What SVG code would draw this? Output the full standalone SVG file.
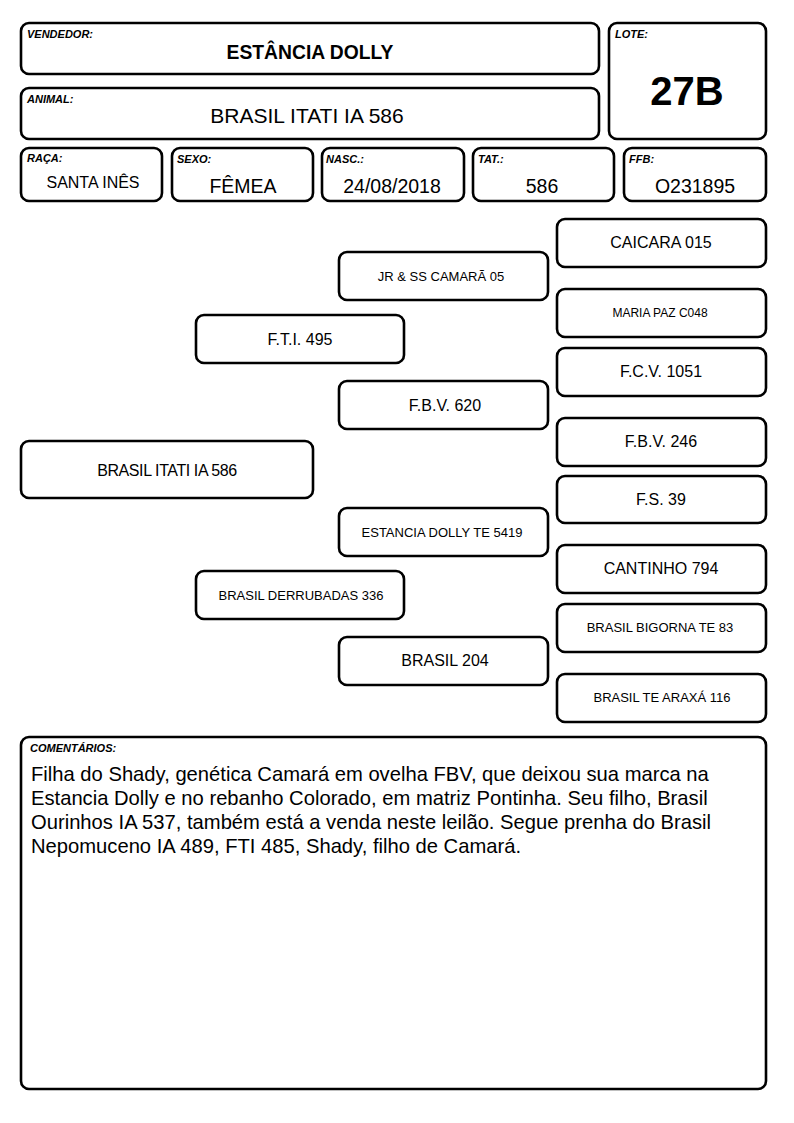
<svg xmlns="http://www.w3.org/2000/svg" width="794" height="1123" viewBox="0 0 794 1123">
<style>
rect.b{fill:#fff;stroke:#000;stroke-width:2.6}
text{font-family:"Liberation Sans",Arial,sans-serif;fill:#000}
.lb{font-size:11px;font-weight:bold;font-style:italic}
.v{text-anchor:middle}
.r{font-size:19.5px;text-anchor:middle}
.m{font-size:16px;text-anchor:middle}
.s{font-size:13px;text-anchor:middle}
.c{font-size:20.2px}
</style>
<rect width="794" height="1123" fill="#fff"/>
<g id="vendedor"><rect class="b" x="21" y="23" width="578" height="51" rx="8"/><text class="lb" x="27" y="38">VENDEDOR:</text><text class="v" x="310" y="59" font-size="19.3" font-weight="bold">ESTÂNCIA DOLLY</text></g>
<g id="animal"><rect class="b" x="21" y="88" width="578" height="51" rx="8"/><text class="lb" x="27" y="103">ANIMAL:</text><text class="v" x="307" y="123" font-size="21">BRASIL ITATI IA 586</text></g>
<g id="lote"><rect class="b" x="609" y="23" width="157" height="116" rx="8"/><text class="lb" x="615" y="38">LOTE:</text><text class="v" x="687" y="105" font-size="40" font-weight="bold">27B</text></g>
<g id="raca"><rect class="b" x="21" y="148" width="141" height="53" rx="8"/><text class="lb" x="27" y="162">RAÇA:</text><text class="v" x="93" y="188" font-size="16">SANTA INÊS</text></g>
<g id="sexo"><rect class="b" x="172" y="148" width="141" height="53" rx="8"/><text class="lb" x="177" y="163">SEXO:</text><text class="r" x="243" y="193">FÊMEA</text></g>
<g id="nasc"><rect class="b" x="322" y="148" width="142" height="53" rx="8"/><text class="lb" x="326" y="163">NASC.:</text><text class="r" x="392" y="193">24/08/2018</text></g>
<g id="tat"><rect class="b" x="473" y="148" width="141" height="53" rx="8"/><text class="lb" x="478" y="163">TAT.:</text><text class="r" x="542" y="193">586</text></g>
<g id="ffb"><rect class="b" x="624" y="148" width="142" height="53" rx="8"/><text class="lb" x="629" y="163">FFB:</text><text class="r" x="695" y="193">O231895</text></g>

<g id="connectors"></g>

<g id="p0"><rect class="b" x="21" y="441" width="292" height="57" rx="8"/><text class="m" x="167" y="476" letter-spacing="-0.4">BRASIL ITATI IA 586</text></g>
<g id="p1"><rect class="b" x="196" y="315" width="208" height="48" rx="8"/><text class="m" x="300" y="345">F.T.I. 495</text></g>
<g id="p2"><rect class="b" x="196" y="571" width="208" height="48" rx="8"/><text class="s" x="301" y="600">BRASIL DERRUBADAS 336</text></g>
<g id="p3"><rect class="b" x="339" y="252" width="209" height="48" rx="8"/><text class="s" x="441" y="281">JR &amp; SS CAMARÃ 05</text></g>
<g id="p4"><rect class="b" x="339" y="381" width="209" height="48" rx="8"/><text class="m" x="445" y="411">F.B.V. 620</text></g>
<g id="p5"><rect class="b" x="339" y="508" width="209" height="48" rx="8"/><text class="s" x="442" y="537">ESTANCIA DOLLY TE 5419</text></g>
<g id="p6"><rect class="b" x="339" y="637" width="209" height="48" rx="8"/><text class="m" x="445" y="666">BRASIL 204</text></g>
<g id="p7"><rect class="b" x="557" y="219" width="209" height="48" rx="8"/><text class="m" x="661" y="248">CAICARA 015</text></g>
<g id="p8"><rect class="b" x="557" y="289" width="209" height="48" rx="8"/><text class="v" x="660" y="317" font-size="12">MARIA PAZ C048</text></g>
<g id="p9"><rect class="b" x="557" y="348" width="209" height="48" rx="8"/><text class="m" x="661" y="377">F.C.V. 1051</text></g>
<g id="p10"><rect class="b" x="557" y="418" width="209" height="48" rx="8"/><text class="m" x="661" y="447">F.B.V. 246</text></g>
<g id="p11"><rect class="b" x="557" y="476" width="209" height="47" rx="8"/><text class="m" x="661" y="505">F.S. 39</text></g>
<g id="p12"><rect class="b" x="557" y="545" width="209" height="48" rx="8"/><text class="m" x="661" y="574">CANTINHO 794</text></g>
<g id="p13"><rect class="b" x="557" y="604" width="209" height="48" rx="8"/><text class="s" x="660" y="632">BRASIL BIGORNA TE 83</text></g>
<g id="p14"><rect class="b" x="557" y="674" width="209" height="48" rx="8"/><text class="s" x="662" y="702">BRASIL TE ARAXÁ 116</text></g>

<g id="comentarios"><rect class="b" x="21" y="737" width="745" height="352" rx="8"/><text class="lb" x="30" y="752">COMENTÁRIOS:</text>
<text class="c" x="31" y="781">Filha do Shady, genética Camará em ovelha FBV, que deixou sua marca na</text>
<text class="c" x="31" y="805">Estancia Dolly e no rebanho Colorado, em matriz Pontinha. Seu filho, Brasil</text>
<text class="c" x="31" y="829">Ourinhos IA 537, também está a venda neste leilão. Segue prenha do Brasil</text>
<text class="c" x="31" y="853">Nepomuceno IA 489, FTI 485, Shady, filho de Camará.</text></g>
</svg>
